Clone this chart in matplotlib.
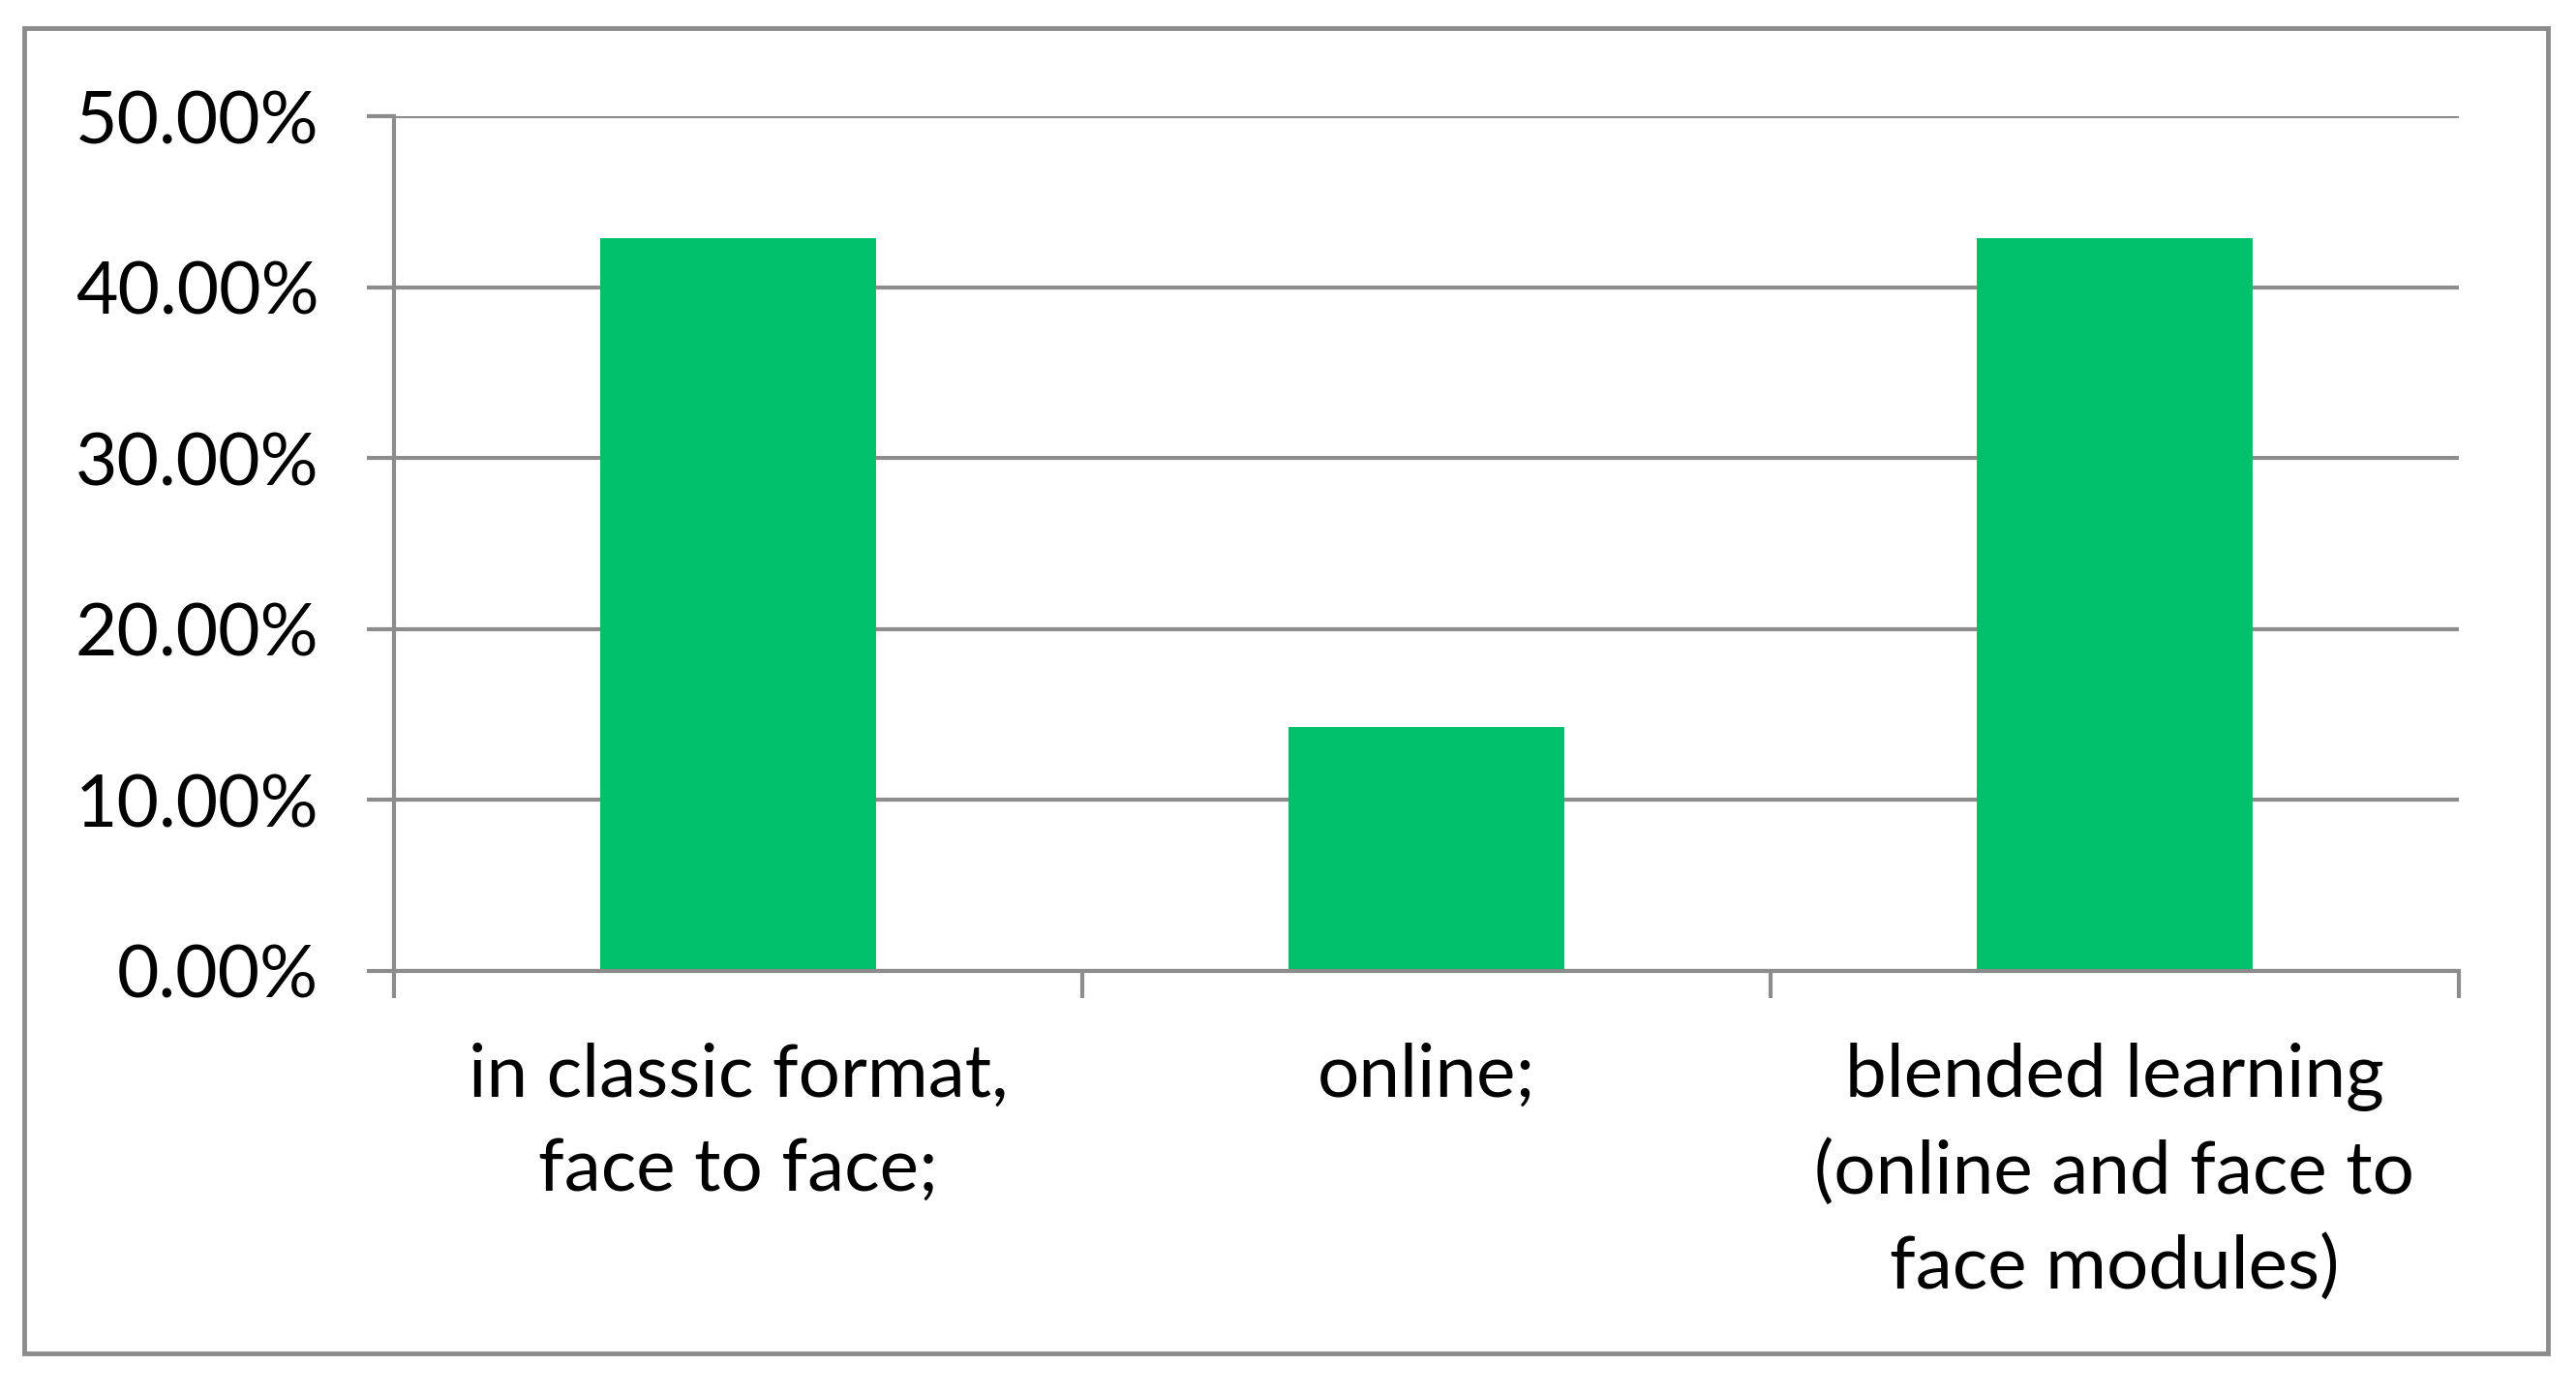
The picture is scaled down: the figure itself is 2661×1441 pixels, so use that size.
import matplotlib
matplotlib.use("Agg")
import matplotlib.pyplot as plt
from matplotlib.patches import Rectangle
from matplotlib.ticker import PercentFormatter, FixedLocator

# Дані діаграми
categories = ["in classic format,\nface to face;", "online;",
              "blended learning\n(online and face to\nface modules)"]
shares = [0.4286, 0.1429, 0.4286]
y_ticks = [0.0, 0.1, 0.2, 0.3, 0.4, 0.5]

GREEN = "#00C06B"
GRAY = "#8C8C8C"

plt.rcParams["font.family"] = ["Lato", "DejaVu Sans"]

fig = plt.figure(figsize=(26.61, 14.41), dpi=100)
ax = fig.add_axes([0.1530, 0.3040, 0.8015, 0.6127])

x = range(len(categories))
ax.bar(x, shares, width=0.40, color=GREEN, zorder=3)

ax.set_xlim(-0.5, len(categories) - 0.5)
ax.set_ylim(0, 0.5)
ax.set_yticks(y_ticks)
ax.yaxis.set_major_formatter(PercentFormatter(1, decimals=2))
ax.grid(axis="y", color=GRAY, linewidth=3, zorder=0)

# мітки категорій по центру, тики між категоріями
ax.set_xticks(list(x))
ax.set_xticklabels(categories, fontsize=55, linespacing=1.5)
ax.xaxis.set_minor_locator(FixedLocator([-0.5, 0.5, 1.5, 2.5]))
ax.tick_params(axis="x", which="major", length=0, pad=53)
ax.tick_params(axis="x", which="minor", length=20, width=3, color=GRAY,
               direction="out")
ax.tick_params(axis="y", length=20, width=3, color=GRAY, pad=36,
               labelsize=54)

for side in ["top", "right"]:
    ax.spines[side].set_visible(False)
for side in ["left", "bottom"]:
    ax.spines[side].set_color(GRAY)
    ax.spines[side].set_linewidth(3)
    ax.spines[side].set_zorder(4)

# рамка навколо всієї діаграми
fig.patches.append(Rectangle((0.0094, 0.0298), 0.9797, 0.9501,
                             transform=fig.transFigure, fill=False,
                             edgecolor=GRAY, linewidth=3.5))

fig.savefig("out.png", dpi=100)
